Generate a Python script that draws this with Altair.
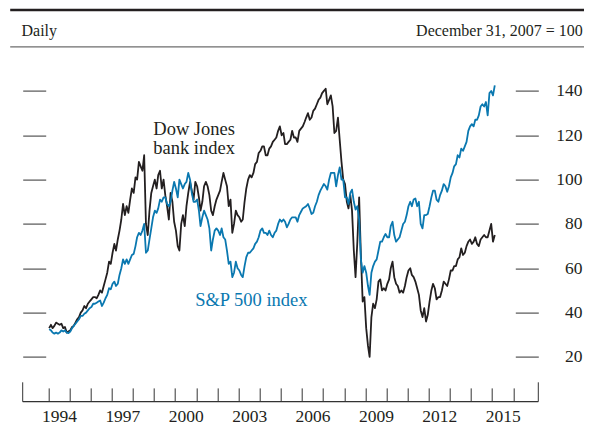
import altair as alt
import pandas as pd

# Monthly readings (mid-month), index: December 31, 2007 = 100
years = list(range(1994, 2016))

bank_index = [
    [33, 34.5, 33, 34, 35.5, 35, 34.5, 35, 33, 33.5, 31, 31.5],          # 1994
    [32, 33.5, 34, 35.5, 37, 38, 40, 41, 43, 42, 44, 45],                # 1995
    [46, 47, 47, 46.5, 48, 50, 49, 52, 55, 58, 63, 62],                  # 1996
    [67, 71, 68, 73, 77, 82, 89, 84, 88, 85, 91, 96],                    # 1997
    [94, 101, 100, 108, 106, 104, 111, 80, 75, 86, 94, 97],              # 1998
    [100, 96, 102, 104, 96, 100, 93, 88, 82, 94, 90, 81],                # 1999
    [77, 70, 68, 80, 84, 79, 88, 94, 99, 95, 91, 99],                    # 2000
    [97, 92, 86, 90, 97, 99, 97, 93, 86, 84, 88, 91],                    # 2001
    [93, 95, 99, 103, 100, 97, 88, 91, 76, 80, 86, 84],                  # 2002
    [83, 81, 82, 90, 96, 100, 102, 101, 103, 107, 108, 112],             # 2003
    [113, 115, 115, 111, 111, 114, 115, 117, 118, 119, 122, 124],        # 2004
    [120, 121, 116, 116, 117, 118, 122, 119, 119, 117, 122, 123],        # 2005
    [124, 126, 128, 130, 127, 128, 131, 132, 134, 136, 137, 139],        # 2006
    [140, 141, 134, 136, 138, 133, 121, 122, 128, 118, 108, 100],        # 2007
    [98, 90, 87, 93, 86, 68, 56, 72, 92, 66, 45, 47],                    # 2008
    [33, 25, 20, 38, 44, 42, 46, 54, 55, 50, 51, 50],                    # 2009
    [53, 55, 60, 63, 56, 53, 52, 49, 50, 49, 52, 56],                    # 2010
    [59, 60, 57, 56, 54, 51, 48, 41, 38, 42, 36, 39],                    # 2011
    [45, 50, 53, 51, 46, 47, 47, 50, 54, 53, 52, 55],                    # 2012
    [59, 59, 61, 61, 64, 65, 69, 66, 67, 70, 72, 73],                    # 2013
    [71, 72, 74, 71, 70, 73, 74, 75, 74, 74, 77, 80],                    # 2014
    [72, 75],                                                            # 2015
]

sp500 = [
    [32.5, 32, 31, 30.5, 31, 30.5, 31, 32, 31.5, 32, 31, 30.8],          # 1994
    [31.5, 33, 34, 35, 36, 37, 38.5, 38.5, 39.5, 40, 41, 42],            # 1995
    [42.5, 44, 44, 44.5, 45, 45.5, 43, 44.5, 46.5, 48, 51, 50.5],        # 1996
    [53, 54, 52, 53, 57, 60, 64, 62, 64, 62, 64, 66],                    # 1997
    [66.5, 70, 74, 76, 75, 77, 80, 67, 68, 73, 78, 83],                  # 1998
    [86, 85, 87, 91, 90, 92, 92, 89, 88, 90, 95, 99],                    # 1999
    [96, 92, 100, 98, 96, 98, 99, 103, 100, 94, 90, 90],                 # 2000
    [91, 86, 79, 83, 86, 84, 82, 78, 68, 73, 77, 78],                    # 2001
    [77, 75, 78, 74, 73, 68, 62, 63, 56, 58, 63, 60],                    # 2002
    [59, 57, 56, 61, 65, 67, 67, 68, 69, 71, 72, 74],                    # 2003
    [77, 78, 76, 76, 75, 77, 75, 74, 76, 77, 80, 82],                    # 2004
    [81, 82, 81, 78.5, 80, 82, 83, 83, 83, 81, 84, 85.5],                # 2005
    [87, 87.5, 88, 89, 87, 84.5, 85, 88, 90, 93, 95, 96.5],              # 2006
    [98, 97, 95.5, 100, 103, 103, 103, 97, 102, 105.5, 100, 100],        # 2007
    [92, 92, 89, 94, 95.5, 90, 86.5, 88, 82, 64, 58, 61],                # 2008
    [58, 52, 48, 58, 61, 63, 64, 68, 72, 72, 74, 75.5],                  # 2009
    [74, 74, 79, 81, 75, 72, 73, 74, 77, 80, 81, 84],                    # 2010
    [88, 90, 88, 91, 91.5, 88, 90, 80, 78, 84, 84, 84.5],                # 2011
    [88, 92, 95, 95, 91, 90, 93, 95, 98, 97, 94.5, 97],                  # 2012
    [101, 103, 106, 107, 111, 110, 114, 113, 115, 117, 122, 124],        # 2013
    [125, 124, 127, 127, 129, 133, 134, 133, 135, 129, 139, 140],        # 2014
    [138, 142.5],                                                        # 2015
]

y_ticks = [20, 40, 60, 80, 100, 120, 140]
x_tick_years = list(range(1994, 2017))

rows = []
for yr, bk, sp in zip(years, bank_index, sp500):
    for m, (b, s) in enumerate(zip(bk, sp), start=1):
        d = f"{yr}-{m:02d}-15"
        rows.append({"date": d, "value": b, "series": "Dow Jones bank index"})
        rows.append({"date": d, "value": s, "series": "S&P 500 index"})
df = pd.DataFrame(rows)

W = 515.6
H = 354.7
INK = "#231f20"
BLUE = "#0a78b0"
FONT = "Liberation Serif"

x_scale = alt.Scale(
    type="utc",
    domain=[alt.DateTime(year=1992, month=10, date=15, utc=True),
            alt.DateTime(year=2017, month=3, date=8, utc=True)],
)
y_scale = alt.Scale(domain=[0, 160], nice=False, zero=False)

x_axis = alt.Axis(
    orient="bottom",
    values=[alt.DateTime(year=y, month=1, date=1, utc=True) for y in x_tick_years],
    offset=-13.4, tickSize=13.4, tickColor="#333", tickWidth=1,
    domain=False, grid=False,
    labelExpr="(utcyear(datum.value) % 3 == 2 && utcyear(datum.value) < 2016) ? utcFormat(datum.value, '%Y') : ''",
    labelOffset=10.6, labelPadding=6, labelFont=FONT, labelFontSize=17.5,
    labelColor=INK, labelOverlap=False, labelFlush=False, labelBound=False,
    title=None,
)

y_right = alt.Axis(
    orient="right", values=y_ticks, offset=-23, tickSize=23, tickColor="#444",
    tickWidth=1.1, domain=False, grid=False, labelAlign="right",
    labelPadding=43.7, labelFont=FONT, labelFontSize=17.5, labelColor=INK,
    title=None,
)
y_left = alt.Axis(
    orient="left", values=y_ticks, offset=-23, tickSize=23, tickColor="#444",
    tickWidth=1.1, domain=False, grid=False, labels=False, title=None,
)

lines = alt.Chart(df).mark_line(strokeWidth=1.8, strokeJoin="round").encode(
    x=alt.X("date:T", scale=x_scale, axis=x_axis),
    y=alt.Y("value:Q", scale=y_scale, axis=y_right),
    color=alt.Color("series:N",
                    scale=alt.Scale(domain=["Dow Jones bank index", "S&P 500 index"],
                                    range=[INK, BLUE]),
                    legend=None),
    order=alt.Order("series:N"),
)

left_ticks = alt.Chart(pd.DataFrame({"v": y_ticks})).mark_point(opacity=0).encode(
    y=alt.Y("v:Q", scale=y_scale, axis=y_left),
)

base_rule = alt.Chart(pd.DataFrame({"k": [0]}))
x_domain = base_rule.mark_rule(color="#333", strokeWidth=1.2).encode(
    x=alt.value(0), x2=alt.value(W), y=alt.value(H + 0.4))
end_left = base_rule.mark_rule(color="#333", strokeWidth=1).encode(
    x=alt.value(0), y=alt.value(H - 19), y2=alt.value(H + 0.4))
end_right = base_rule.mark_rule(color="#333", strokeWidth=1).encode(
    x=alt.value(W), y=alt.value(H - 19), y2=alt.value(H + 0.4))

top_line = base_rule.mark_rule(color=INK, strokeWidth=2.6).encode(
    x=alt.value(-12.5), x2=alt.value(564), y=alt.value(-36.6))
sub_line = base_rule.mark_rule(color="#6d6d6d", strokeWidth=1.2).encode(
    x=alt.value(-12.5), x2=alt.value(564), y=alt.value(0.2))

def label(txt, x, y, color=INK, size=18.5, align="left", line_h=18.5):
    return base_rule.mark_text(text=txt, font=FONT, fontSize=size, color=color,
                               align=align, baseline="alphabetic",
                               lineHeight=line_h).encode(
        x=alt.value(x), y=alt.value(y))

daily = label("Daily", -1.2, -10.6, size=16)
basis = label("December 31, 2007 = 100", 560, -10.6, size=16, align="right")
dow = label(["Dow Jones", "bank index"], 130.6, 88.8)
spl = label("S&P 500 index", 172.5, 259.4, color=BLUE)

chart = alt.layer(
    top_line, sub_line, left_ticks, lines, x_domain, end_left, end_right,
    daily, basis, dow, spl,
).resolve_axis(y="independent").properties(
    width=W, height=H,
    autosize=alt.AutoSizeParams(type="none"),
    padding={"left": 14.7, "top": 38.6, "right": 45.7, "bottom": 28},
    background="white",
).configure_view(stroke=None)

chart.save("out.html", embed_options={"renderer": "svg", "actions": False})
